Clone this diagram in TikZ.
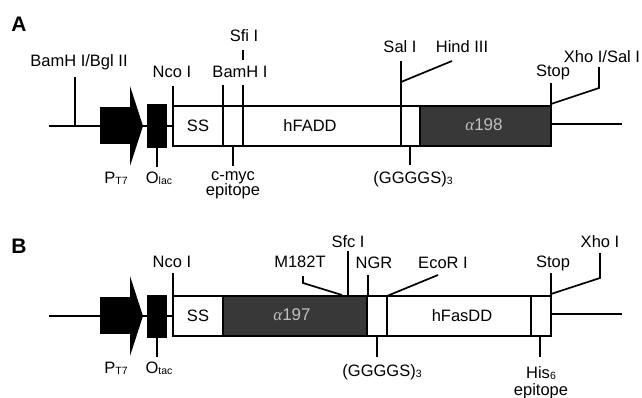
\documentclass[tikz,border=0pt]{standalone}
\usepackage{fontspec}
\setmainfont{Liberation Sans}
\newfontfamily\grkfont{Liberation Serif}
\newcommand\sbs[1]{\raisebox{-1.2pt}{\fontsize{10.5}{12}\selectfont #1}}
\tikzset{
  lbl/.style={font=\fontsize{16.5}{18}\selectfont, inner sep=0pt, anchor=base},
  mid/.style={font=\fontsize{16.5}{18}\selectfont, inner sep=0pt},
  panel/.style={font=\fontsize{21}{23}\selectfont\bfseries, inner sep=0pt, anchor=base},
  ln/.style={line width=1.7pt},
  dark/.style={fill=black!78},
  alab/.style={font=\fontsize{17}{19}\selectfont, text=black!25, inner sep=0pt},
}
\begin{document}
\begin{tikzpicture}[x=1pt,y=-1pt]
\useasboundingbox (0,0) rectangle (642,398);
% ================= Panel A =================
\node[panel] (pA) at (19,32) {A};
\draw[ln] (49,126) -- (100,126);
\fill (100,107) rectangle (131,144);
\fill (130,86) -- (143,126) -- (130,166) -- cycle;
\draw[ln] (143,126) -- (147,126);
\fill (147,104) rectangle (167,148);
\draw[ln] (157,148) -- (157,167);
\draw[ln] (167,126) -- (173,126);
\fill[dark] (420,106) rectangle (551,146);
\draw[ln] (173,106) rectangle (551,146);
\foreach \x in {223,243,420} \draw[ln] (\x,106) -- (\x,146);
% ticks
\draw[ln] (75,77) -- (75,126);
\draw[ln] (173,86) -- (173,106);
\draw[ln] (223,85) -- (223,106);
\draw[ln] (243,50) -- (243,60);
\draw[ln] (243,85) -- (243,106);
\draw[ln] (233,146) -- (233,166);
\draw[ln] (401,61) -- (401,146);
\draw[ln] (401,82) -- (452,61);
\draw[ln] (410,146) -- (410,165);
\draw[ln] (551,83) -- (551,106);
\draw[ln] (551,104) -- (599,88) -- (599,67);
\draw[ln] (551,124) -- (622,124);
% labels
\node[lbl] (a-bam) at (79,67) {BamH I/Bgl II};
\node[lbl] (a-nco) at (172,78) {Nco I};
\node[lbl] (a-bam2) at (240,78) {BamH I};
\node[lbl] (a-sfi) at (244,42) {Sfi I};
\node[lbl] (a-sal) at (400,53) {Sal I};
\node[lbl] (a-hind) at (462,53) {Hind III};
\node[lbl] (a-stop) at (553,77) {Stop};
\node[lbl] (a-xho) at (602,63) {Xho I/Sal I};
\node[lbl] (a-pt7) at (116,183) {P\sbs{T7}};
\node[lbl] (a-olac) at (159,183) {O\sbs{lac}};
\node[lbl] (a-cmyc) at (233,181) {c-myc};
\node[lbl] (a-epi) at (233,196) {epitope};
\node[lbl] (a-gs) at (413,183) {(GGGGS)\sbs{3}};
\node[mid] (a-ss) at (198,126) {SS};
\node[mid] (a-hf) at (310,126) {hFADD};
\node[alab] (a-al) at (484,125) {{\grkfont\itshape α}198};
% ================= Panel B =================
\node[panel] (pB) at (19,253) {B};
\draw[ln] (49,316) -- (100,316);
\fill (100,297) rectangle (131,334);
\fill (130,276) -- (143,316) -- (130,356) -- cycle;
\draw[ln] (143,316) -- (147,316);
\fill (147,295) rectangle (167,338);
\draw[ln] (157,338) -- (157,357);
\draw[ln] (167,316) -- (173,316);
\fill[dark] (223,296) rectangle (367,336);
\draw[ln] (173,296) rectangle (551,336);
\foreach \x in {223,367,387,531} \draw[ln] (\x,296) -- (\x,336);
\draw[ln] (173,273) -- (173,296);
\draw[ln] (303,276) -- (303,283) -- (342,295);
\draw[ln] (348,251) -- (348,296);
\draw[ln] (368,275) -- (368,296);
\draw[ln] (387,296) -- (438,275);
\draw[ln] (377,336) -- (377,357);
\draw[ln] (551,273) -- (551,296);
\draw[ln] (551,294) -- (600,278) -- (600,253);
\draw[ln] (540,336) -- (540,357);
\draw[ln] (551,314) -- (622,314);
\node[lbl] (b-nco) at (172,267) {Nco I};
\node[lbl] (b-m182) at (300,267) {M182T};
\node[lbl] (b-sfc) at (348,247) {Sfc I};
\node[lbl] (b-ngr) at (374,268) {NGR};
\node[lbl] (b-eco) at (443,268) {EcoR I};
\node[lbl] (b-stop) at (553,267) {Stop};
\node[lbl] (b-xho) at (600,247) {Xho I};
\node[lbl] (b-pt7) at (116,373) {P\sbs{T7}};
\node[lbl] (b-olac) at (159,373) {O\sbs{tac}};
\node[lbl] (b-gs) at (382,376) {(GGGGS)\sbs{3}};
\node[lbl] (b-his) at (541,378) {His\sbs{6}};
\node[lbl] (b-epi) at (541,395) {epitope};
\node[mid] (b-ss) at (198,316) {SS};
\node[mid] (b-hf) at (462,316) {hFasDD};
\node[alab] (b-al) at (292,315) {{\grkfont\itshape α}197};
\end{tikzpicture}
\end{document}
